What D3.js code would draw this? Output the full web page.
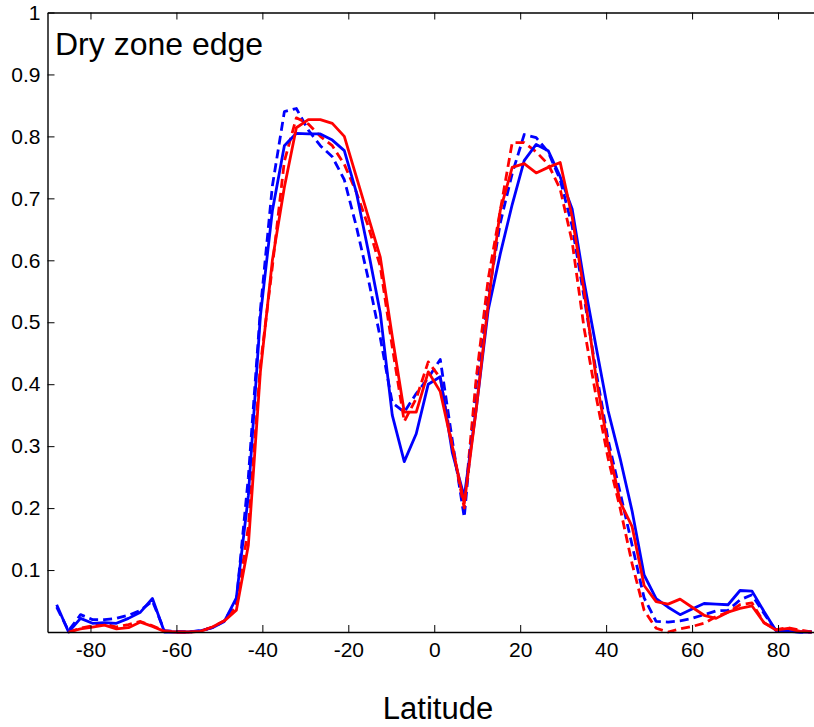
<!DOCTYPE html>
<html>
<head>
<meta charset="utf-8">
<script src="https://cdnjs.cloudflare.com/ajax/libs/d3/7.8.5/d3.min.js"></script>
<style>
	body { margin: 0; background: #fff; }
	svg { display: block; font-family: "Liberation Sans", Arial, Helvetica, sans-serif; }
</style>
</head>
<body>
<div id="chart"></div>
<script>
/* jshint esversion:6 */
// latitudes of the model grid (south to north)
var lats = [-87.86, -85.10, -82.31, -79.53, -76.74, -73.95, -71.16, -68.37, -65.58, -62.79,
	-60.00, -57.21, -54.42, -51.63, -48.84, -46.05, -43.26, -40.46, -37.67, -34.88,
	-32.09, -29.30, -26.51, -23.72, -20.93, -18.14, -15.35, -12.56, -9.77, -6.98,
	-4.19, -1.40, 1.40, 4.19, 6.98, 9.77, 12.56, 15.35, 18.14, 20.93,
	23.72, 26.51, 29.30, 32.09, 34.88, 37.67, 40.46, 43.26, 46.05, 48.84,
	51.63, 54.42, 57.21, 60.00, 62.79, 65.58, 68.37, 71.16, 73.95, 76.74,
	79.53, 82.31, 85.10, 87.86];

var blueSolid = [0.044, 0.0, 0.022, 0.014, 0.015, 0.014, 0.022, 0.032, 0.054, 0.0,
	0.0, 0.0, 0.002, 0.007, 0.017, 0.055, 0.22, 0.51, 0.68, 0.785,
	0.805, 0.804, 0.804, 0.794, 0.777, 0.71, 0.615, 0.515, 0.35, 0.275,
	0.32, 0.40, 0.412, 0.29, 0.218, 0.36, 0.52, 0.61, 0.69, 0.761,
	0.787, 0.777, 0.735, 0.683, 0.565, 0.46, 0.357, 0.28, 0.195, 0.092,
	0.054, 0.04, 0.028, 0.037, 0.046, 0.045, 0.044, 0.067, 0.066, 0.033,
	0.002, 0.001, 0.0, 0.0];

var blueDashed = [0.04, 0.002, 0.028, 0.02, 0.02, 0.022, 0.027, 0.035, 0.05, 0.002,
	0.001, 0.0, 0.002, 0.007, 0.018, 0.05, 0.25, 0.52, 0.72, 0.84,
	0.845, 0.81, 0.785, 0.767, 0.73, 0.655, 0.57, 0.475, 0.37, 0.355,
	0.385, 0.41, 0.44, 0.31, 0.185, 0.40, 0.54, 0.66, 0.74, 0.803,
	0.798, 0.775, 0.73, 0.655, 0.54, 0.42, 0.31, 0.225, 0.14, 0.055,
	0.017, 0.016, 0.018, 0.022, 0.028, 0.034, 0.035, 0.052, 0.06, 0.03,
	0.002, 0.001, 0.0, 0.0];

var redSolid = [null, 0.0, 0.005, 0.008, 0.011, 0.005, 0.007, 0.016, 0.009, 0.001,
	0.0, 0.0, 0.001, 0.008, 0.018, 0.035, 0.14, 0.42, 0.60, 0.718,
	0.814, 0.827, 0.827, 0.821, 0.80, 0.735, 0.67, 0.605, 0.477, 0.355,
	0.355, 0.42, 0.388, 0.30, 0.207, 0.36, 0.53, 0.68, 0.75, 0.756,
	0.741, 0.75, 0.758, 0.67, 0.55, 0.41, 0.30, 0.21, 0.17, 0.075,
	0.049, 0.045, 0.053, 0.04, 0.027, 0.022, 0.032, 0.038, 0.042, 0.015,
	0.003, 0.006, 0.001, 0.0];

var redDashed = [null, 0.0, 0.006, 0.01, 0.013, 0.008, 0.012, 0.017, 0.01, 0.002,
	0.0, 0.0, 0.001, 0.008, 0.018, 0.04, 0.17, 0.43, 0.59, 0.76,
	0.83, 0.82, 0.80, 0.785, 0.755, 0.71, 0.655, 0.59, 0.46, 0.34,
	0.377, 0.436, 0.41, 0.30, 0.20, 0.41, 0.57, 0.68, 0.79, 0.79,
	0.775, 0.755, 0.715, 0.63, 0.49, 0.38, 0.28, 0.20, 0.11, 0.035,
	0.006, 0.0, 0.005, 0.009, 0.014, 0.025, 0.032, 0.044, 0.047, 0.015,
	0.004, 0.007, 0.003, 0.0];

var xTicks = [-80, -60, -40, -20, 0, 20, 40, 60, 80];
var yTicks = [0.1, 0.2, 0.3, 0.4, 0.5, 0.6, 0.7, 0.8, 0.9, 1];

var series = [
	{name: "blue dashed", values: blueDashed, color: "#0000ff", dash: "9,5"},
	{name: "red dashed", values: redDashed, color: "#ff0000", dash: "9,5"},
	{name: "blue solid", values: blueSolid, color: "#0000ff", dash: null},
	{name: "red solid", values: redSolid, color: "#ff0000", dash: null}
];

function drawChart(id) {
	var W = 814, H = 727;
	var x0 = 47.5, x1 = 821, y0 = 632, y1 = 12.5;
	var svg = d3.select(id).append("svg")
		.attr("width", W)
		.attr("height", H);

	var x = d3.scaleLinear().domain([-90, 90]).range([x0, x1]);
	var y = d3.scaleLinear().domain([0, 1]).range([y0, y1]);

	var line = d3.line()
		.defined(function(d) { return d.v !== null; })
		.x(function(d) { return x(d.lat); })
		.y(function(d) { return y(d.v); });

	svg.selectAll(".series").data(series).enter().append("path")
		.attr("class", "series")
		.attr("d", function(s) { return line(lats.map(function(l, i) { return {lat: l, v: s.values[i]}; })); })
		.attr("fill", "none")
		.attr("stroke", function(s) { return s.color; })
		.attr("stroke-width", 2.8)
		.attr("stroke-linejoin", "round")
		.attr("stroke-dasharray", function(s) { return s.dash; });

	// axes, ticks point inwards on all four sides
	var fmt = function(d) { return String(d); };
	svg.append("g").attr("transform", "translate(0," + y0 + ")")
		.call(d3.axisBottom(x).tickValues(xTicks).tickSize(-7).tickSizeOuter(0).tickPadding(10).tickFormat(fmt));
	svg.append("g").attr("transform", "translate(0," + y1 + ")")
		.call(d3.axisTop(x).tickValues(xTicks).tickSize(-7).tickSizeOuter(0).tickFormat(""));
	svg.append("g").attr("transform", "translate(" + x0 + ",0)")
		.call(d3.axisLeft(y).tickValues(yTicks).tickSize(-7).tickSizeOuter(0).tickPadding(7).tickFormat(fmt));
	svg.append("g").attr("transform", "translate(" + x1 + ",0)")
		.call(d3.axisRight(y).tickValues(yTicks).tickSize(-7).tickSizeOuter(0).tickFormat(""));

	svg.selectAll(".domain").attr("stroke", "#000").attr("stroke-width", 1.4);
	svg.selectAll(".tick line").attr("stroke", "#000").attr("stroke-width", 1);
	svg.selectAll(".tick text").attr("font-size", 21).attr("fill", "#000")
		.attr("font-family", "Liberation Sans, Arial, sans-serif");

	svg.append("text")
		.attr("x", 55)
		.attr("y", 55)
		.attr("font-size", 32)
		.text("Dry zone edge");

	svg.append("text")
		.attr("x", 438)
		.attr("y", 719)
		.attr("text-anchor", "middle")
		.attr("font-size", 31)
		.text("Latitude");
}

window.onload = function () {
	drawChart("#chart");
};
</script>
</body>
</html>
